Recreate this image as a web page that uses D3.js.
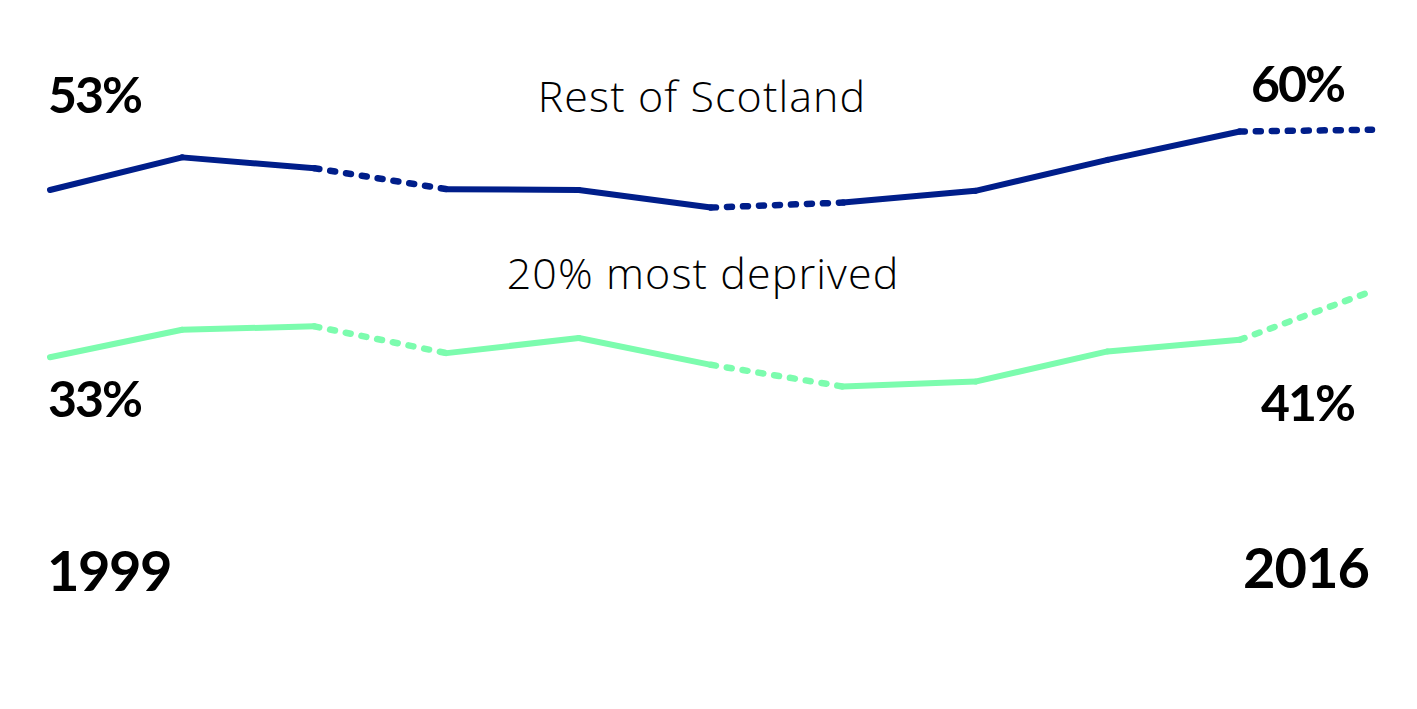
<!DOCTYPE html>
<html>
<head>
<meta charset="utf-8">
<script src="https://cdn.jsdelivr.net/npm/d3@7"></script>
<style>
  html, body { margin: 0; padding: 0; background: #fff; }
  svg { display: block; }
  .big { font-family: Lato, "Open Sans", sans-serif; fill: #000; font-weight: 700; }
  .name { font-family: "Open Sans", "Noto Sans", sans-serif; font-weight: 300; fill: #000; letter-spacing: 1.1px; }
</style>
</head>
<body>
<div id="chart"><svg></svg></div>
<script>
// survey points, first 1999, last 2016
const yearLabels = ["1999", "2016"];
const restOfScotland = [53.0, 56.9, 55.6, 53.1, 53.0, 50.9, 51.5, 52.9, 56.6, 60.0, 60.2];
const mostDeprived = [33.0, 36.3, 36.7, 33.5, 35.3, 32.1, 29.5, 30.1, 33.7, 35.1, 40.9];
// segments drawn dashed (index of the segment's first point)
const dashedSegments = [2, 5, 9];
const seriesNames = ["Rest of Scotland", "20% most deprived"];
const seriesColors = ["#001e8a", "#7cfcae"];

var width = 1417,
    height = 709;

const svg = d3.select("#chart").select("svg")
    .attr("width", width)
    .attr("height", height);

const x = d3.scalePoint()
    .domain(d3.range(restOfScotland.length))
    .range([50, 1372]);

const y = d3.scaleLinear()
    .domain([33, 53])
    .range([357.3, 190]);

const line = d3.line()
    .x(function(d) { return x(d.i); })
    .y(function(d) { return y(d.v); });

[restOfScotland, mostDeprived].forEach(function(values, s) {
    const pts = values.map(function(v, i) { return {i: i, v: v}; });
    const segs = d3.pairs(pts).map(function(p) {
        return {pts: p, dashed: dashedSegments.indexOf(p[0].i) >= 0};
    });
    svg.append("g")
        .selectAll("path")
        .data(segs)
        .enter()
        .append("path")
        .attr("d", function(d) { return line(d.pts); })
        .attr("fill", "none")
        .attr("stroke", seriesColors[s])
        .attr("stroke-width", function(d) { return d.dashed ? 6.5 : 6; })
        .attr("stroke-linecap", "round")
        .attr("stroke-dasharray", function(d) { return d.dashed ? "5,11" : null; });
});

const fmt = function(v) { return Math.round(v) + "%"; };

// end value labels
function valueLabel(px, py, anchor, txt) {
    svg.append("text").attr("class", "big")
        .attr("x", px).attr("y", py)
        .attr("text-anchor", anchor)
        .style("font-size", "50px")
        .style("letter-spacing", "-2px")
        .text(txt);
}
valueLabel(48, 113, "start", fmt(restOfScotland[0]));
valueLabel(1344, 102, "end", fmt(restOfScotland[restOfScotland.length - 1]));
valueLabel(48, 417, "start", fmt(mostDeprived[0]));
valueLabel(1354, 421, "end", fmt(mostDeprived[mostDeprived.length - 1]));

// series names
svg.append("text").attr("class", "name")
    .attr("x", 702).attr("y", 112)
    .attr("text-anchor", "middle")
    .style("font-size", "43px")
    .text(seriesNames[0]);
svg.append("text").attr("class", "name")
    .attr("x", 703).attr("y", 289)
    .attr("text-anchor", "middle")
    .style("font-size", "43px")
    .text(seriesNames[1]);

// year labels
svg.append("text").attr("class", "big")
    .attr("x", 47).attr("y", 591)
    .style("font-size", "56px")
    .style("letter-spacing", "-1.5px")
    .text(yearLabels[0]);
svg.append("text").attr("class", "big")
    .attr("x", 1369).attr("y", 588)
    .attr("text-anchor", "end")
    .style("font-size", "56px")
    .style("letter-spacing", "-1px")
    .text(yearLabels[1]);
</script>
</body>
</html>
